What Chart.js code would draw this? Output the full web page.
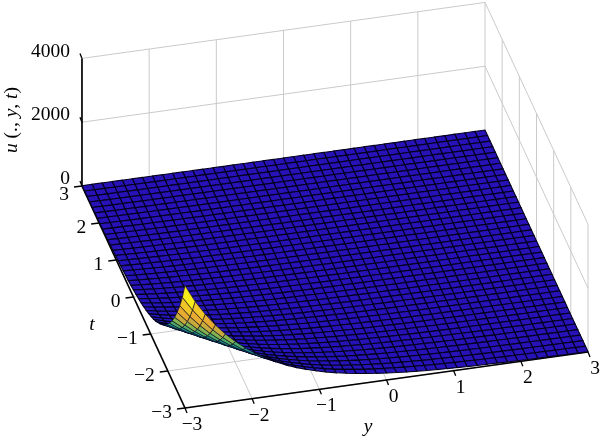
<!DOCTYPE html>
<html><head><meta charset="utf-8">
<style>html,body{margin:0;padding:0;background:#fff}canvas{display:block}</style>
<script src="https://cdn.jsdelivr.net/npm/chart.js@4"></script>
</head><body><canvas id="c" width="600" height="436"></canvas>
<script>
const yTicks=[-3,-2,-1,0,1,2,3];
const tTicks=[-3,-2,-1,0,1,2,3];
const uTicks=[0,2000,4000];
const yGrid=[-3,-2.85,-2.7,-2.55,-2.4,-2.25,-2.1,-1.95,-1.8,-1.65,-1.5,-1.35,-1.2,-1.05,-0.9,-0.75,-0.6,-0.45,-0.3,-0.15,0,0.15,0.3,0.45,0.6,0.75,0.9,1.05,1.2,1.35,1.5,1.65,1.8,1.95,2.1,2.25,2.4,2.55,2.7,2.85,3];
const tGrid=yGrid.slice();
// u read along the surface, by grid steps away from the (y,t)=(-3,-3) corner
const uByStep=[3840,3295,2857,2477,2147,1862,1614,1400,1214,1052,912,791,686,595,516,447,388,336,291,253,219,190,165,143,124,107,93,81,70,61,53,46,40,34,30,26,22,19,17,15,13,11,9,8,7,6,5,5,4,3,3,3,2,2,2,2,1,1,1,1,1,1,1,1,1,0,0,0,0,0,0,0,0,0,0,0,0,0,0,0,0];
const colorStops=[[0,[38,18,182]],[0.15,[36,22,186]],[0.26,[25,60,190]],[0.32,[20,130,155]],[0.37,[35,150,140]],[0.42,[75,170,110]],[0.49,[130,178,80]],[0.56,[195,170,60]],[0.65,[230,170,50]],[0.75,[240,195,40]],[0.87,[248,235,28]],[1,[252,250,20]]];

const FRAME={ox:185,oy:408,yx:67.17,yy:-9.33,tx:-17.17,ty:-37,uy:-0.0319};
function proj(y,t,u){return {x:FRAME.ox+(y+3)*FRAME.yx+(t+3)*FRAME.tx,y:FRAME.oy+(y+3)*FRAME.yy+(t+3)*FRAME.ty+u*FRAME.uy};}
function col(v){const f=Math.min(1,v/3800);for(let i=1;i<colorStops.length;i++){if(f<=colorStops[i][0]){const a=colorStops[i-1],b=colorStops[i],k=(f-a[0])/(b[0]-a[0]);return 'rgb('+a[1].map((c,n)=>Math.round(c+(b[1][n]-c)*k)).join(',')+')';}}return 'rgb(252,250,20)';}
function seg(pts,color,w){return {data:pts,borderColor:color,borderWidth:w,pointRadius:0,fill:false,tension:0,showLine:true};}

const GRIDC='#cacaca';
const back=[];
for(const u of uTicks.slice(1)){back.push(seg([proj(-3,3,u),proj(3,3,u)],GRIDC,1));back.push(seg([proj(3,3,u),proj(3,-3,u)],GRIDC,1));}
for(const y of yTicks.slice(1)){back.push(seg([proj(y,3,0),proj(y,3,4000)],GRIDC,1));back.push(seg([proj(y,-3,0),proj(y,3,0)],GRIDC,1));}
for(const t of tTicks.slice(0,-1)){back.push(seg([proj(3,t,0),proj(3,t,4000)],GRIDC,1));back.push(seg([proj(-3,t,0),proj(3,t,0)],GRIDC,1));}
back.push(seg([proj(-3,3,0),proj(-3,3,4000)],'#000',1.7));
back.push(seg([proj(-3,3,0),proj(-3,-3,0)],'#000',1.7));
back.push(seg([proj(-3,-3,0),proj(3,-3,0)],'#000',1.7));
for(const t of tTicks){const p=proj(-3,t,0);back.push(seg([p,{x:p.x-8,y:p.y+1}],'#000',1.3));}
for(const y of yTicks){const p=proj(y,-3,0);back.push(seg([p,{x:p.x+2,y:p.y+5}],'#000',1.3));}
for(const u of uTicks){const p=proj(-3,3,u);back.push(seg([p,{x:p.x-2,y:p.y-5}],'#000',1.3));}

const cells=[];
for(let j=tGrid.length-2;j>=0;j--){for(let i=yGrid.length-2;i>=0;i--){
  const a=uByStep[i+j],b=uByStep[i+j+1],c=uByStep[i+j+2],m=(a+2*b+c)/4;
  const pts=[proj(yGrid[i],tGrid[j],a),proj(yGrid[i+1],tGrid[j],b),proj(yGrid[i+1],tGrid[j+1],c),proj(yGrid[i],tGrid[j+1],b),proj(yGrid[i],tGrid[j],a)];
  cells.push({data:pts,borderColor:'#03011c',borderWidth:m>1000?0.6:1.1,backgroundColor:col(m),fill:'shape',pointRadius:0,tension:0,showLine:true});
}}
const all=back.concat(cells).reverse();

const labels={id:'labels',afterDraw(ch){const g=ch.ctx;const sx=ch.scales.x,sy=ch.scales.y;
  const px=(x)=>sx.getPixelForValue(x),py=(y)=>sy.getPixelForValue(y);
  g.save();g.fillStyle='#000';g.textBaseline='middle';
  const SIZE='19.5px "Liberation Serif"';g.font=SIZE;
  const m=v=>String(v).replace('-','\u2212');
  g.textAlign='right';
  for(const u of uTicks){const p=proj(-3,3,u);g.fillText(m(u),px(p.x-12),py(p.y-7));}
  for(const t of tTicks){const p=proj(-3,t,0);g.fillText(m(t),px(p.x-13),py(p.y+(t===3?9:5)));}
  g.textAlign='center';
  for(const y of yTicks){const p=proj(y,-3,0);g.fillText(m(y),px(p.x+7),py(p.y+17));}
  g.font='italic '+SIZE;
  g.fillText('t',px(92),py(325));g.fillText('y',px(368),py(427));
  g.translate(px(12),py(120));g.rotate(-Math.PI/2);
  const parts=[['u',1],[' (., ',0],['y',1],[', ',0],['t',1],[')',0]];
  let w=0;for(const[s,i]of parts){g.font=(i?'italic ':'')+SIZE;w+=g.measureText(s).width;}
  let x=-w/2;g.textAlign='left';
  for(const[s,i]of parts){g.font=(i?'italic ':'')+SIZE;g.fillText(s,x,0);x+=g.measureText(s).width;}
  g.restore();
}};
new Chart(document.getElementById('c'),{type:'scatter',data:{datasets:all},plugins:[labels],options:{
  responsive:false,animation:false,events:[],layout:{padding:0},
  plugins:{legend:{display:false},tooltip:{enabled:false},title:{display:false}},
  scales:{x:{type:'linear',display:false,min:0,max:600},y:{type:'linear',display:false,min:0,max:436,reverse:true}}
}});
</script></body></html>
